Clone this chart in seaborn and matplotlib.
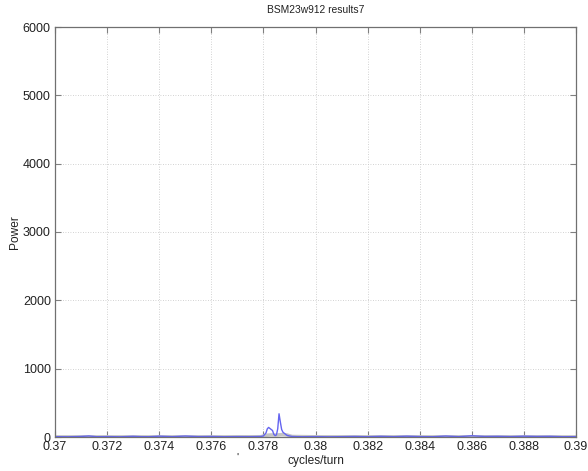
import numpy as np
import pandas as pd
import matplotlib
matplotlib.use("Agg")
import matplotlib.pyplot as plt
import seaborn as sns

# Power spectrum of the tune signal (cycles/turn vs power)
freq_main = [0.3700, 0.3705, 0.3710, 0.3713, 0.3716, 0.3720, 0.3725, 0.3730, 0.3733,
             0.3736, 0.3740, 0.3745, 0.3750, 0.3755, 0.3760, 0.3765, 0.3770, 0.3775,
             0.3779, 0.3780, 0.3781, 0.37815, 0.3782, 0.37825, 0.3783, 0.37835, 0.3784,
             0.37845, 0.3785, 0.37855, 0.3786, 0.37865, 0.3787, 0.37875, 0.3788, 0.3789,
             0.3790, 0.3791, 0.3793, 0.3795, 0.3800, 0.3805, 0.3810, 0.3815, 0.3820,
             0.3825, 0.3830, 0.3835, 0.3840, 0.3845, 0.3850, 0.3855, 0.3860, 0.3865,
             0.3870, 0.3875, 0.3880, 0.3885, 0.3890, 0.3895, 0.3900]
power_main = [5, 3, 8, 15, 4, 6, 3, 10, 5,
              4, 12, 5, 14, 6, 8, 4, 6, 5,
              8, 15, 60, 120, 140, 125, 110, 95, 40,
              20, 30, 120, 340, 220, 110, 70, 55, 25,
              15, 8, 5, 4, 6, 3, 5, 8, 4,
              10, 5, 12, 6, 4, 14, 5, 18, 8,
              10, 6, 12, 8, 10, 4, 5]

# Secondary (reference) spectrum drawn in light grey underneath
freq_ref = [0.3700, 0.3760, 0.3779, 0.3781, 0.3783, 0.3785, 0.3787, 0.3789, 0.3791,
            0.3800, 0.3900]
power_ref = [2, 2, 4, 25, 30, 28, 35, 30, 8, 3, 2]

main = pd.DataFrame({"cycles/turn": freq_main, "Power": power_main})
ref = pd.DataFrame({"cycles/turn": freq_ref, "Power": power_ref})

x_ticks = [0.37, 0.372, 0.374, 0.376, 0.378, 0.38, 0.382, 0.384, 0.386, 0.388, 0.39]
x_tick_labels = ["0.37", "0.372", "0.374", "0.376", "0.378", "0.38",
                 "0.382", "0.384", "0.386", "0.388", "0.39"]
y_ticks = [0, 1000, 2000, 3000, 4000, 5000, 6000]

sns.set_theme(style="white")
plt.rcParams["font.family"] = ["Liberation Sans", "DejaVu Sans"]

fig = plt.figure(figsize=(5.88, 4.71), dpi=100)
ax = fig.add_axes([55 / 588, 1 - 437 / 471, (576 - 55) / 588, (437 - 27) / 471])

sns.lineplot(data=ref, x="cycles/turn", y="Power", ax=ax, color="#c4c4c4",
             linewidth=2.5, estimator=None, sort=False)
sns.lineplot(data=main, x="cycles/turn", y="Power", ax=ax, color="#6464f0",
             linewidth=1.0, estimator=None, sort=False)

ax.set_xlim(0.37, 0.39)
ax.set_ylim(0, 6000)
ax.set_xticks(x_ticks)
ax.set_xticklabels(x_tick_labels)
ax.set_yticks(y_ticks)

ax.grid(True, color="#c4c4c4", linestyle=(0, (1, 2)), linewidth=0.6)
for s in ax.spines.values():
    s.set_color("#707070")
    s.set_linewidth(0.9)
ax.tick_params(axis="both", direction="in", length=4, width=0.8, color="#808080",
               labelsize=9, labelcolor="#222222", top=True, right=True,
               bottom=True, left=True)
ax.tick_params(axis="x", pad=3)
ax.tick_params(axis="y", pad=3)

ax.set_xlabel("cycles/turn", fontsize=8.6, color="#222222", labelpad=1)
ax.set_ylabel("Power", fontsize=8.6, color="#222222", labelpad=1)
ax.set_title("BSM23w912 results7", fontsize=7.4, color="#222222", pad=10)

fig.text(237 / 588, 1 - 458 / 471, "'", fontsize=8, color="#222222",
         ha="center", va="center")

fig.savefig("out.png", dpi=100, facecolor="white")
